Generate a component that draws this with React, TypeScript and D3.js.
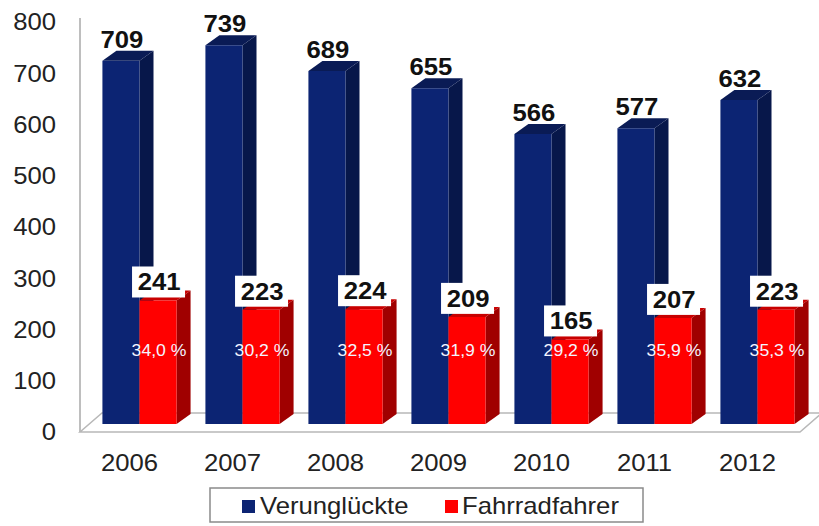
import React from "react";
import * as d3 from "d3";

const years = ["2006", "2007", "2008", "2009", "2010", "2011", "2012"];
const verunglueckte = [709, 739, 689, 655, 566, 577, 632];
const fahrradfahrer = [241, 223, 224, 209, 165, 207, 223];
const anteil = ["34,0 %", "30,2 %", "32,5 %", "31,9 %", "29,2 %", "35,9 %", "35,3 %"];
const yTicks = [0, 100, 200, 300, 400, 500, 600, 700, 800];
const seriesNames = ["Verunglückte", "Fahrradfahrer"];

const W = 819;
const H = 526;
const FONT = "'Liberation Sans', Arial, sans-serif";
const DX = 14;
const DY = 10;
const SX = 1.07;

const colors = {
  blue: { front: "#0c2473", side: "#07174a", top: "#0a1b55" },
  red: { front: "#ff0000", side: "#a00000", top: "#c80000" },
};

function Bar3D({ x, w, yTop, yBase, c }: { x: number; w: number; yTop: number; yBase: number; c: any }) {
  const front = `M${x},${yTop}L${x + w},${yTop}L${x + w},${yBase}L${x},${yBase}Z`;
  const side = `M${x + w},${yTop}L${x + w + DX},${yTop - DY}L${x + w + DX},${yBase - DY}L${x + w},${yBase}Z`;
  const top = `M${x},${yTop}L${x + DX},${yTop - DY}L${x + w + DX},${yTop - DY}L${x + w},${yTop}Z`;
  return (
    <g>
      <path d={side} fill={c.side} />
      <path d={top} fill={c.top} />
      <path d={front} fill={c.front} />
    </g>
  );
}

function T({ x, y, children, anchor = "start", size = 24, weight = "normal", fill = "#222", dy }: any) {
  return (
    <g transform={`translate(${x},${y}) scale(${SX},1)`}>
      <text x={0} y={0} dy={dy} textAnchor={anchor} fontSize={size} fontWeight={weight} fill={fill}>
        {children}
      </text>
    </g>
  );
}

export default function App() {
  const y = d3.scaleLinear().domain([0, 800]).range([424, 14]);
  const x = d3.scaleBand<string>().domain(years).range([88, 809]).paddingInner(0.28).paddingOuter(0.14);
  const xs = d3.scaleBand<string>().domain(seriesNames).range([0, x.bandwidth()]);
  const bw = xs.bandwidth();
  const base = y(0);

  const floorFront = 432;
  const floorBack = 413;
  const floorL = 80;
  const floorR = 800;
  const fdx = 22;

  return (
    <svg width={W} height={H} style={{ position: "absolute", left: 0, top: 0, background: "#fff" }} fontFamily={FONT}>
      <rect width={W} height={H} fill="#fff" />
      <line x1={floorL} y1={18} x2={floorL} y2={floorFront} stroke="#a8a8a8" strokeWidth={1.5} />
      <path
        d={`M${floorL},${floorFront}L${floorR},${floorFront}L${floorR + fdx},${floorBack}L${floorL + fdx},${floorBack}Z`}
        fill="#fff"
        stroke="#b8b8b8"
        strokeWidth={1.5}
      />
      {yTicks.map((t) => (
        <T key={t} x={56} y={y(t) + 8} dy="0.35em" anchor="end" size={24}>
          {t}
        </T>
      ))}
      {years.map((yr, i) => {
        const gx = x(yr)!;
        const bx = gx + xs(seriesNames[0])!;
        const rx = gx + xs(seriesNames[1])!;
        return (
          <g key={yr}>
            <Bar3D x={bx} w={bw} yTop={y(verunglueckte[i])} yBase={base} c={colors.blue} />
            <Bar3D x={rx} w={bw} yTop={y(fahrradfahrer[i])} yBase={base} c={colors.red} />
          </g>
        );
      })}
      {years.map((yr, i) => {
        const gx = x(yr)!;
        const bx = gx + xs(seriesNames[0])!;
        const rx = gx + xs(seriesNames[1])!;
        const rTop = y(fahrradfahrer[i]);
        return (
          <g key={yr + "l"}>
            <T x={bx + bw / 2 + 1} y={y(verunglueckte[i]) - DY - 3} anchor="middle" size={24} weight="bold" fill="#111">
              {verunglueckte[i]}
            </T>
            <rect x={rx + bw / 2 - 26} y={rTop - 34} width={53} height={31} fill="#fff" />
            <T x={rx + bw / 2 + 1} y={rTop - 10} anchor="middle" size={24} weight="bold" fill="#111">
              {fahrradfahrer[i]}
            </T>
            <T x={rx + bw / 2 + 1} y={350} dy="0.35em" anchor="middle" size={16.5} fill="#f4f4ff">
              {anteil[i]}
            </T>
            <T x={gx + x.bandwidth() / 2 - 10} y={463} dy="0.35em" anchor="middle" size={24}>
              {yr}
            </T>
          </g>
        );
      })}
      <rect x={210} y={488} width={433} height={34} fill="#fff" stroke="#8a8a8a" strokeWidth={1.5} />
      <rect x={242} y={500} width={13} height={13} fill={colors.blue.front} />
      <T x={260} y={506} dy="0.35em" size={24}>{seriesNames[0]}</T>
      <rect x={445} y={500} width={13} height={13} fill={colors.red.front} />
      <T x={462} y={506} dy="0.35em" size={24}>{seriesNames[1]}</T>
    </svg>
  );
}
